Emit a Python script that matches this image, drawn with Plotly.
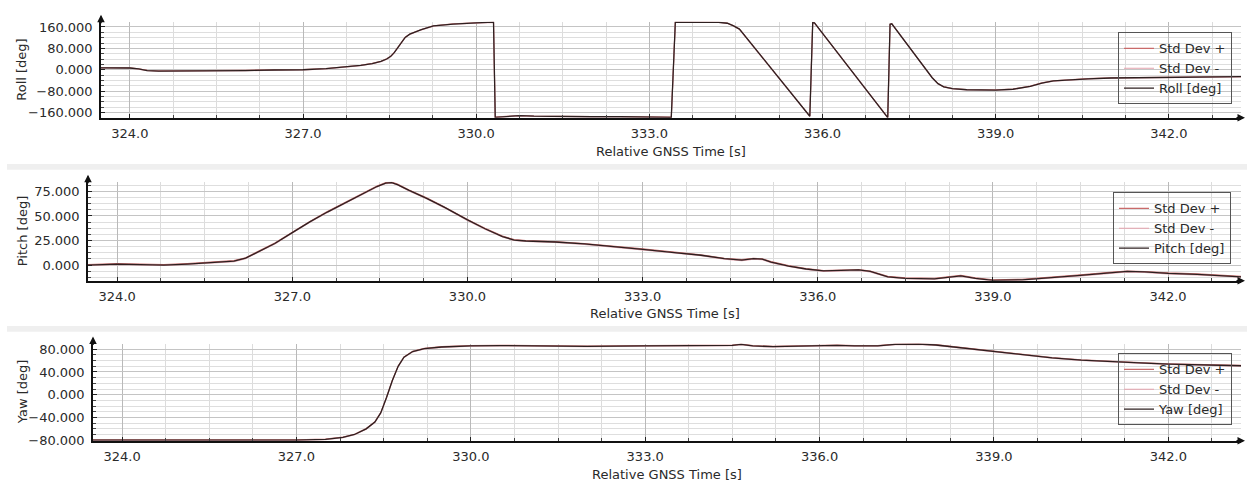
import plotly.graph_objects as go

# ---- attitude solution: time stamps [s] and angles [deg] ----
roll_t = [323.5, 323.8, 324.0, 324.15, 324.3, 324.5, 325.0, 325.5, 326.0, 326.5,
          327.0, 327.4, 327.76, 328.0, 328.2, 328.35, 328.45, 328.52, 328.58, 328.65,
          328.72, 328.77, 328.85, 328.91, 329.05, 329.26, 329.6, 330.0, 330.3, 330.33,
          330.5, 330.75, 331.0, 331.5, 332.0, 332.5, 333.0, 333.38, 333.45, 333.8,
          334.2, 334.35, 334.45, 334.56, 335.78, 335.83, 335.86, 337.13, 337.17, 337.2,
          337.9, 338.0, 338.1, 338.25, 338.5, 339.0, 339.3, 339.6, 339.8, 340.0,
          340.3, 340.6, 341.0, 342.0, 343.25]
roll_v = [7, 7, 6.5, 3, -3, -5, -4.5, -6, -3, -1,
          0, 4, 10, 16, 23, 31, 40, 50, 64, 84,
          106, 121, 133, 139, 150, 164, 171, 175, 178, -178,
          -176, -172, -174, -176, -176, -176, -177, -178, 178, 178,
          177.5, 174, 165, 152, -174, 176, 175, -179, 170, 172,
          -30, -52, -64, -71, -75, -76, -73, -62, -50, -42,
          -37, -34, -31, -28, -26]
roll_sd = 0.8

pitch_t = [323.5, 324.0, 324.4, 324.8, 325.2, 325.6, 326.0, 326.2, 326.4, 326.7,
           327.0, 327.3, 327.6, 327.9, 328.2, 328.45, 328.6, 328.7, 328.8, 329.0,
           329.3, 329.6, 330.0, 330.3, 330.6, 330.8, 331.0, 331.5, 332.0, 332.5,
           333.0, 333.5, 334.0, 334.4, 334.7, 334.9, 335.05, 335.2, 335.5, 335.8,
           336.1, 336.4, 336.7, 336.9, 337.2, 337.5, 338.0, 338.3, 338.45, 338.7,
           339.0, 339.5, 340.0, 340.5, 341.0, 341.3, 341.6, 342.0, 342.5, 343.25]
pitch_v = [0, 1, 0.5, 0, 1, 2.5, 4, 7, 13, 22,
           33, 44, 54, 63, 72, 80, 83.5, 84, 82, 76,
           68, 59, 46, 37, 29, 25.5, 24.5, 23.5, 21.5, 19,
           16, 13, 10, 6.5, 5, 6.5, 6, 3, -1, -4,
           -6, -5.5, -5, -6.5, -12, -13.5, -14, -12, -11, -13.5,
           -15.5, -15, -13, -10.5, -8, -6.5, -7, -8.5, -9.5, -12]
pitch_sd = 0.5

yaw_t = [323.5, 324.0, 325.0, 326.0, 327.0, 327.5, 327.8, 328.0, 328.2, 328.35,
         328.45, 328.55, 328.65, 328.75, 328.85, 329.0, 329.2, 329.5, 330.0, 330.5,
         331.0, 332.0, 333.0, 334.0, 334.5, 334.65, 334.85, 335.2, 335.6, 336.0,
         336.3, 336.6, 337.0, 337.3, 337.7, 338.0, 338.5, 339.0, 339.5, 340.0,
         340.5, 341.0, 341.5, 342.0, 342.5, 343.25]
yaw_v = [-80, -80, -80.5, -80.5, -80, -78.5, -75, -70, -60, -48,
         -32, -5, 25, 50, 66, 76, 81, 84, 86, 86.5,
         86, 85, 86, 86, 87, 88.5, 86, 84.5, 85, 86.5,
         87, 86, 86, 88.5, 89, 87.5, 82, 75.5, 70, 65,
         61, 58, 56, 54, 52.5, 51]
yaw_sd = 0.6

x_range = [323.5, 343.25]
x_tick0, x_dtick, x_minor = 324.0, 3.0, 0.75

panels = [
    # name, t, v, sd, y range, y dtick, y minor step
    ("Roll [deg]", roll_t, roll_v, roll_sd, [-180, 180], 80, 20),
    ("Pitch [deg]", pitch_t, pitch_v, pitch_sd, [-16, 85], 25, 6.25),
    ("Yaw [deg]", yaw_t, yaw_v, yaw_sd, [-81, 90], 40, 10),
]

W, H = 1247, 488
# pixel boxes of the three plot areas: left, right, top, bottom
boxes = [(101, 1241, 20, 118), (88, 1241, 183, 284), (93, 1241, 348, 447)]
legend_pos = [(1118, 31), (1113, 194), (1118, 358)]
xtitle_y = [152, 317, 481]

FONT = "DejaVu Sans"
TXT = "#2a2a2a"

fig = go.Figure()
layout = dict(
    width=W, height=H, margin=dict(l=0, r=0, t=0, b=0),
    paper_bgcolor="white", plot_bgcolor="white",
    font=dict(family=FONT, size=13, color=TXT),
    showlegend=True,
)
annotations = []
shapes = []

for i, (name, t, v, sd, yr, ydt, ymin) in enumerate(panels):
    k = "" if i == 0 else str(i + 1)
    xa, ya = "x" + k, "y" + k
    lg = "legend" + k
    upper = [a + sd for a in v]
    lower = [a - sd for a in v]
    fig.add_trace(go.Scatter(x=t, y=upper, mode="lines", name="Std Dev +",
                             line=dict(color="#c96a6a", width=1.1),
                             xaxis=xa, yaxis=ya, legend=lg))
    fig.add_trace(go.Scatter(x=t, y=lower, mode="lines", name="Std Dev -",
                             line=dict(color="#e3a2ac", width=1.1),
                             xaxis=xa, yaxis=ya, legend=lg))
    fig.add_trace(go.Scatter(x=t, y=v, mode="lines", name=name,
                             line=dict(color="#2e2020", width=1.3),
                             xaxis=xa, yaxis=ya, legend=lg))

    l, r, tp, bt = boxes[i]
    xdom = [l / W, r / W]
    ydom = [1 - bt / H, 1 - tp / H]
    layout["xaxis" + k] = dict(
        domain=xdom, range=x_range, anchor=ya,
        tick0=x_tick0, dtick=x_dtick, tickformat=".1f",
        showgrid=True, gridcolor="#b9b9b9", gridwidth=1,
        ticks="inside", ticklen=4, tickcolor="#222",
        showline=True, linecolor="#111", linewidth=1.5,
        zeroline=False, ticklabelstandoff=3,
        tickfont=dict(family=FONT, size=13, color=TXT),
        minor=dict(dtick=x_minor, tick0=x_tick0, showgrid=True,
                   gridcolor="#dcdcdc", ticks="inside", ticklen=3, tickcolor="#444"),
        fixedrange=True,
    )
    layout["yaxis" + k] = dict(
        domain=ydom, range=yr, anchor=xa,
        tick0=0, dtick=ydt, tickformat=".3f",
        showgrid=True, gridcolor="#c4c4c4", gridwidth=1,
        ticks="inside", ticklen=4, tickcolor="#222",
        showline=True, linecolor="#111", linewidth=1.5,
        zeroline=False, ticklabelstandoff=4,
        tickfont=dict(family=FONT, size=13, color=TXT),
        minor=dict(dtick=ymin, tick0=0, showgrid=True,
                   gridcolor="#dedede", ticks="inside", ticklen=3, tickcolor="#444"),
        fixedrange=True,
    )
    lx, ly = legend_pos[i]
    layout[lg] = dict(
        x=lx / W, y=1 - ly / H, xanchor="left", yanchor="top",
        bgcolor="rgba(0,0,0,0)", bordercolor="#555", borderwidth=1,
        font=dict(family=FONT, size=13, color=TXT),
        itemwidth=30, tracegroupgap=0,
    )

    # axis arrow heads
    annotations.append(dict(x=0, y=1, xref=xa + " domain", yref=ya + " domain",
                            text="", showarrow=True, arrowhead=2, arrowsize=1,
                            arrowwidth=1.5, arrowcolor="#111", ax=0, ay=10, yshift=7))
    annotations.append(dict(x=1, y=0, xref=xa + " domain", yref=ya + " domain",
                            text="", showarrow=True, arrowhead=2, arrowsize=1,
                            arrowwidth=1.5, arrowcolor="#111", ax=-10, ay=0, xshift=4))
    # axis titles
    annotations.append(dict(x=22 / W, y=1 - (tp + bt) / 2 / H, xref="paper", yref="paper",
                            xanchor="center", yanchor="middle",
                            text=name, textangle=-90, showarrow=False,
                            font=dict(family=FONT, size=13, color=TXT)))
    annotations.append(dict(x=(l + r) / 2 / W, y=1 - xtitle_y[i] / H, xref="paper", yref="paper",
                            xanchor="center", yanchor="middle",
                            text="Relative GNSS Time [s]", showarrow=False,
                            font=dict(family=FONT, size=13, color=TXT)))

# light separators between the stacked panels
for y0, y1 in [(165, 171), (330, 336)]:
    shapes.append(dict(type="rect", xref="paper", yref="paper",
                       x0=7 / W, x1=1, y0=1 - y1 / H, y1=1 - y0 / H,
                       fillcolor="#efefef", line=dict(width=0), layer="below"))

layout["annotations"] = annotations
layout["shapes"] = shapes
fig.update_layout(**layout)

fig.write_html("out.html")
